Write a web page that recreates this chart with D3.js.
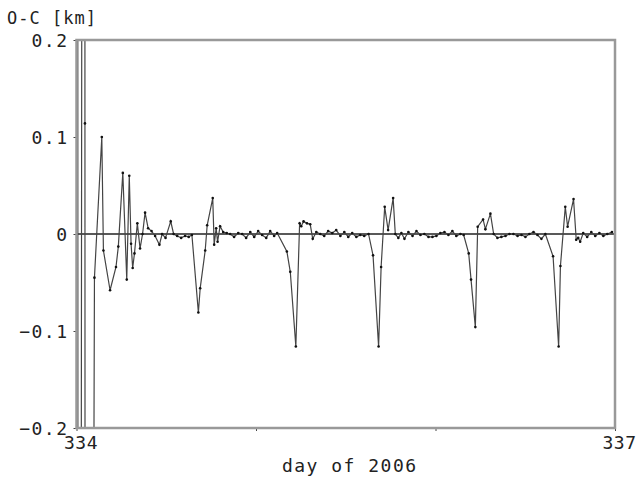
<!DOCTYPE html>
<html>
<head>
<meta charset="utf-8">
<script src="https://cdn.jsdelivr.net/npm/d3@7"></script>
<style>
  body { margin: 0; background: #fff; }
  text { font-family: "DejaVu Sans Mono", monospace; fill: #222; }
</style>
</head>
<body>
<script>
// Chart data: O-C residuals [km] vs day of 2006
var days = [
  334.004, 334.011, 334.045, 334.047, 334.051, 334.100, 334.141, 334.150, 334.187, 334.220,
  334.233, 334.258, 334.280, 334.294, 334.304, 334.313, 334.323, 334.339, 334.354, 334.368,
  334.382, 334.399, 334.418, 334.438, 334.462, 334.477, 334.496, 334.525, 334.541, 334.561,
  334.583, 334.605, 334.625, 334.643, 334.679, 334.689, 334.717, 334.728, 334.759, 334.767,
  334.778, 334.786, 334.800, 334.817, 334.837, 334.856, 334.878, 334.901, 334.923, 334.945,
  334.968, 334.990, 335.012, 335.034, 335.057, 335.079, 335.101, 335.118, 335.172, 335.191,
  335.222, 335.243, 335.252, 335.265, 335.284, 335.302, 335.316, 335.336, 335.358, 335.380,
  335.402, 335.425, 335.447, 335.470, 335.492, 335.514, 335.536, 335.559, 335.581, 335.603,
  335.627, 335.652, 335.683, 335.697, 335.717, 335.736, 335.764, 335.776, 335.793, 335.810,
  335.827, 335.849, 335.872, 335.894, 335.916, 335.938, 335.961, 335.983, 336.005, 336.027,
  336.050, 336.072, 336.094, 336.116, 336.139, 336.157, 336.185, 336.198, 336.222, 336.235,
  336.265, 336.278, 336.306, 336.324, 336.345, 336.367, 336.390, 336.412, 336.434, 336.457,
  336.479, 336.501, 336.523, 336.546, 336.568, 336.590, 336.612, 336.655, 336.686, 336.696,
  336.723, 336.736, 336.769, 336.784, 336.795, 336.806, 336.823, 336.845, 336.868, 336.890,
  336.913, 336.935, 336.957, 336.983
];
var residuals = [
  3, -3, 3, 0.114, -3, -0.045, 0.1, -0.017, -0.058, -0.034,
  -0.013, 0.063, -0.047, 0.06, -0.01, -0.035, -0.02, 0.011, -0.015, 0.0,
  0.022, 0.006, 0.003, -0.002, -0.011, 0.0, -0.004, 0.013, 0.0, -0.002,
  -0.004, -0.002, -0.003, -0.001, -0.081, -0.056, -0.017, 0.009, 0.037, -0.011,
  0.006, -0.008, 0.008, 0.002, 0.001, 0.0, -0.003, 0.001, 0.0, -0.004,
  0.002, -0.003, 0.003, -0.001, -0.004, 0.003, -0.002, 0.001, -0.018, -0.039,
  -0.116, 0.011, 0.008, 0.013, 0.011, 0.01, -0.005, 0.002, 0.0, -0.002,
  0.003, 0.001, 0.004, -0.002, 0.002, -0.003, 0.001, -0.003, -0.001, -0.002,
  0.0, -0.022, -0.116, -0.034, 0.028, 0.004, 0.037, 0.0, -0.004, 0.001,
  -0.005, 0.002, -0.002, 0.003, -0.001, 0.0, -0.003, -0.003, -0.002, 0.001,
  0.002, -0.001, 0.003, -0.002, 0.0, -0.001, -0.02, -0.047, -0.096, 0.0075,
  0.015, 0.005, 0.021, 0.0, -0.004, -0.003, -0.002, 0.0, 0.0, -0.002,
  -0.001, -0.003, 0.0, 0.002, -0.001, -0.005, 0.0, -0.023, -0.116, -0.033,
  0.028, 0.0075, 0.036, -0.006, -0.004, -0.008, 0.001, -0.003, 0.002, -0.002,
  0.001, -0.002, 0.0, 0.002
];
var yTicks = [-0.2, -0.1, 0, 0.1, 0.2];
var xTicks = [334, 335, 336, 337];
var xTickLabels = ["334", "", "", "337"];

var data = days.map(function(d, i) { return {day: d, oc: residuals[i]}; });

// Plot box
var margin = {top: 40, right: 25, bottom: 53, left: 76.5},
    width = 640 - margin.left - margin.right,
    height = 481 - margin.top - margin.bottom;

var svg = d3.select("body")
    .append("svg")
    .attr("width", 640)
    .attr("height", 481);

var g = svg.append("g")
    .attr("transform", "translate(" + margin.left + "," + margin.top + ")");

var xScale = d3.scaleLinear().domain([334, 337]).range([0, width]);
var yScale = d3.scaleLinear().domain([-0.2, 0.2]).range([height, 0]);

g.append("clipPath")
    .attr("id", "plot-clip")
    .append("rect")
    .attr("width", width)
    .attr("height", height);

// Axes (ticks outside, labels only)
var yAxis = d3.axisLeft(yScale)
    .tickValues(yTicks)
    .tickSize(3)
    .tickPadding(5)
    .tickFormat(function(d) { return d === 0 ? "0" : d3.format(".1f")(d); });

var xAxis = d3.axisBottom(xScale)
    .tickValues(xTicks)
    .tickSize(3)
    .tickPadding(5)
    .tickFormat(function(d, i) { return xTickLabels[i]; });

g.append("g")
    .attr("class", "y axis")
    .call(yAxis)
    .call(function(s) { s.select(".domain").remove(); })
    .call(function(s) { s.selectAll("line").attr("stroke", "#444"); })
    .call(function(s) {
        s.selectAll("text")
            .style("font-size", "18px")
            .style("letter-spacing", "1.5px")
            .attr("dy", "0.36em");
    });

g.append("g")
    .attr("class", "x axis")
    .attr("transform", "translate(0," + height + ")")
    .call(xAxis)
    .call(function(s) { s.select(".domain").remove(); })
    .call(function(s) { s.selectAll("line").attr("stroke", "#444"); })
    .call(function(s) {
        s.selectAll("text")
            .attr("dx", 4)
            .style("font-size", "18px")
            .style("letter-spacing", "0.5px");
    });

// Zero reference line
g.append("line")
    .attr("x1", 0)
    .attr("x2", width)
    .attr("y1", yScale(0))
    .attr("y2", yScale(0))
    .attr("stroke", "#222")
    .attr("stroke-width", 1.5);

// Residual series
var plot = g.append("g").attr("clip-path", "url(#plot-clip)");

var line = d3.line()
    .x(function(d) { return xScale(d.day); })
    .y(function(d) { return yScale(d.oc); });

plot.append("path")
    .datum(data)
    .attr("fill", "none")
    .attr("stroke", "#444")
    .attr("stroke-width", 1.2)
    .attr("d", line);

plot.selectAll(".pt")
    .data(data.filter(function(d) { return Math.abs(d.oc) <= 0.2; }))
    .enter()
    .append("circle")
    .attr("class", "pt")
    .attr("cx", function(d) { return xScale(d.day); })
    .attr("cy", function(d) { return yScale(d.oc); })
    .attr("r", 1.3)
    .attr("fill", "#111");

// Frame
g.append("rect")
    .attr("width", width)
    .attr("height", height)
    .attr("fill", "none")
    .attr("stroke", "#999")
    .attr("stroke-width", 2.5);

// Axis titles
svg.append("text")
    .attr("x", 7)
    .attr("y", 24)
    .style("font-size", "17px")
    .style("letter-spacing", "1px")
    .text("O-C [km]");

svg.append("text")
    .attr("x", margin.left + width / 2 + 4)
    .attr("y", 472)
    .attr("text-anchor", "middle")
    .style("font-size", "18px")
    .style("letter-spacing", "1.5px")
    .text("day of 2006");
</script>
</body>
</html>
